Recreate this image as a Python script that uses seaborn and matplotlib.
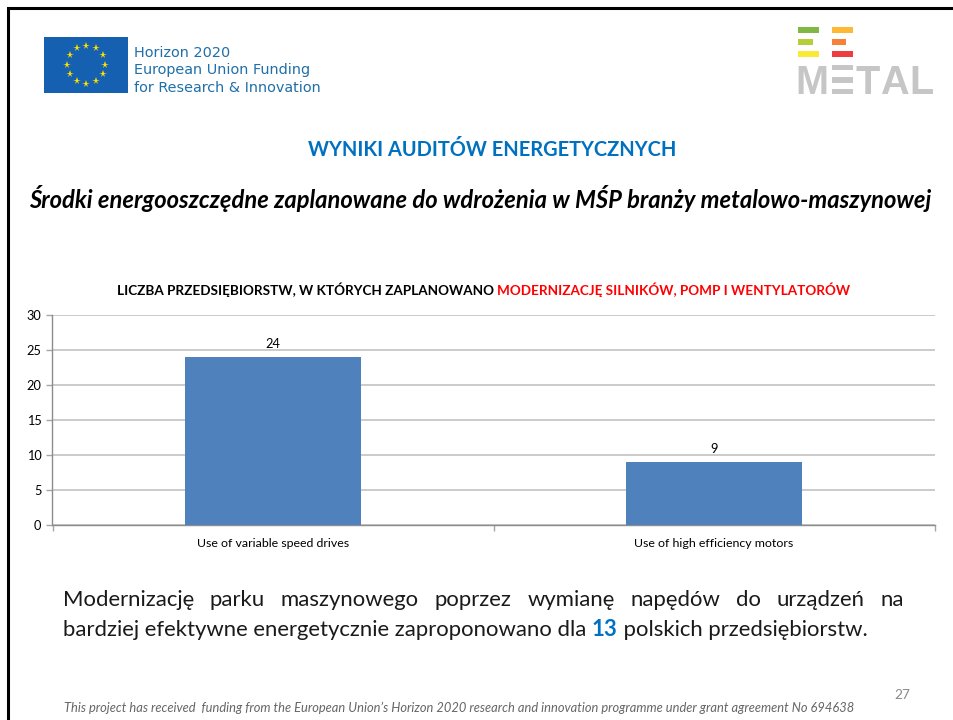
import numpy as np
import pandas as pd
import matplotlib
matplotlib.use("Agg")
import matplotlib.pyplot as plt
from matplotlib.patches import Rectangle
import seaborn as sns

categories = ["Use of variable speed drives", "Use of high efficiency motors"]
values = [24, 9]
y_ticks = [0, 5, 10, 15, 20, 25, 30]

W, H = 954, 720
sns.set_theme(style="white")
plt.rcParams["font.family"] = ["Lato", "DejaVu Sans"]

fig = plt.figure(figsize=(W / 100, H / 100), dpi=100, facecolor="white")

# page overlay in pixel coordinates
pg = fig.add_axes([0, 0, 1, 1], zorder=0)
pg.set_xlim(0, W)
pg.set_ylim(H, 0)
pg.axis("off")

# slide frame
pg.plot([8.5, 8.5, W], [H, 8, 8], color="black", lw=2.2, solid_joinstyle="miter")

# EU flag
pg.add_patch(Rectangle((44.5, 36.5), 84, 56, fc="#1560B0", ec="none"))
for a in np.arange(12) * np.pi / 6:
    pg.plot(86.5 + 19 * np.sin(a), 64.5 - 19 * np.cos(a), marker="*", ms=5.5,
            color="#FFE100", mew=0)
for i, s in enumerate(["Horizon 2020", "European Union Funding", "for Research & Innovation"]):
    pg.text(134.5, 53 + 17.3 * i, s, fontsize=10.4, color="#1F6FA8", va="center",
            family="DejaVu Sans")

# EE METAL logo
for x0, x1, y, c in [(798, 819, 30, "#7FB843"), (832, 853, 30, "#FDB933"),
                     (798, 813, 42, "#B5CF3A"), (832, 846, 42, "#F58238"),
                     (798, 819, 54, "#FBEA35"), (832, 853, 54, "#EE3D3E")]:
    pg.add_patch(Rectangle((x0, y - 2.7), x1 - x0, 5.4, fc=c, ec="none"))
for s, x in [("M", 795), ("T", 856), ("A", 880), ("L", 909)]:
    pg.text(x, 94.5, s, fontsize=28.5, color="#C6C6C6", family="Liberation Sans",
            fontweight="bold", va="baseline", ha="left")
for y in (64.5, 77, 88.5):
    pg.add_patch(Rectangle((832, y), 21, 5.5, fc="#C6C6C6", ec="none"))

# headings
pg.text(492.5, 150, "WYNIKI AUDITÓW ENERGETYCZNYCH", fontsize=14.45, fontweight="bold",
        color="#0070C0", ha="center", va="center")
pg.text(480, 198, "Środki energooszczędne zaplanowane do wdrożenia w MŚP branży metalowo-maszynowej",
        fontsize=17.1, fontweight="bold", fontstyle="italic", color="black", ha="center", va="center")

# chart title
pg.text(494, 290, "LICZBA PRZEDSIĘBIORSTW, W KTÓRYCH ZAPLANOWANO", fontsize=9.7, fontweight="bold",
        color="black", ha="right", va="center")
pg.text(497, 290, "MODERNIZACJĘ SILNIKÓW, POMP I WENTYLATORÓW", fontsize=9.7, fontweight="bold",
        color="#FF0000", ha="left", va="center")

# chart
ax = fig.add_axes([52.5 / W, 1 - 524.5 / H, (934.5 - 52.5) / W, (524.5 - 315) / H], zorder=2)
ax.patch.set_alpha(0)
df = pd.DataFrame({"category": categories, "value": values})
sns.barplot(data=df, x="category", y="value", color="#4F81BD", saturation=1, width=0.4, ax=ax,
            zorder=3, linewidth=0)
ax.set_xlim(-0.5, 1.5)
ax.set_ylim(0, 30)
ax.set_yticks(y_ticks)
ax.set_xlabel("")
ax.set_ylabel("")
ax.yaxis.grid(True, color="#BDBDBD", lw=1.1, zorder=1)
ax.set_axisbelow(True)
ax.set_xticks([-0.5, 0.5, 1.5], minor=True)
ax.tick_params(axis="x", which="major", length=0, pad=10, labelsize=8.9, labelcolor="black")
ax.tick_params(axis="x", which="minor", length=4, width=1, color="#A6A6A6", bottom=True)
ax.tick_params(axis="y", length=4, width=1, color="#A6A6A6", pad=4, labelsize=9.2,
               labelcolor="black", left=True)
for side in ("top", "right"):
    ax.spines[side].set_visible(False)
for side in ("left", "bottom"):
    ax.spines[side].set_color("#8C8C8C")
    ax.spines[side].set_linewidth(1)
ax.bar_label(ax.containers[0], labels=[str(v) for v in values], fontsize=9.2, padding=5, color="black")

# body text
fig.canvas.draw()
rend = fig.canvas.get_renderer()


def width(s, **kw):
    t = pg.text(0, 0, s, **kw)
    bb = t.get_window_extent(rend)
    t.remove()
    return bb.width


body = dict(fontsize=15.9, color="#1A1A1A", va="center")
words = "Modernizację parku maszynowego poprzez wymianę napędów do urządzeń na".split()
ws = [width(w, **body) for w in words]
gap = (904 - 63 - sum(ws)) / (len(words) - 1)
x = 63
for w, wd in zip(words, ws):
    pg.text(x, 600, w, **body)
    x += wd + gap

x = 63
for s, kw in [("bardziej efektywne energetycznie zaproponowano dla ", body),
              ("13", {**body, "fontweight": "bold", "color": "#0070C0"}),
              (" polskich przedsiębiorstw.", body)]:
    pg.text(x, 630, s, **kw)
    x += width(s.replace(" ", "\u00a0"), **kw)

# footer
pg.text(64, 708, "This project has received  funding from the European Union’s Horizon 2020 research and innovation programme under grant agreement No 694638",
        fontsize=9.3, fontstyle="italic", color="#666666", va="center")
pg.text(894, 695, "27", fontsize=9.8, color="#8A8A8A", va="center")

fig.savefig("out.png", dpi=100, facecolor="white")
